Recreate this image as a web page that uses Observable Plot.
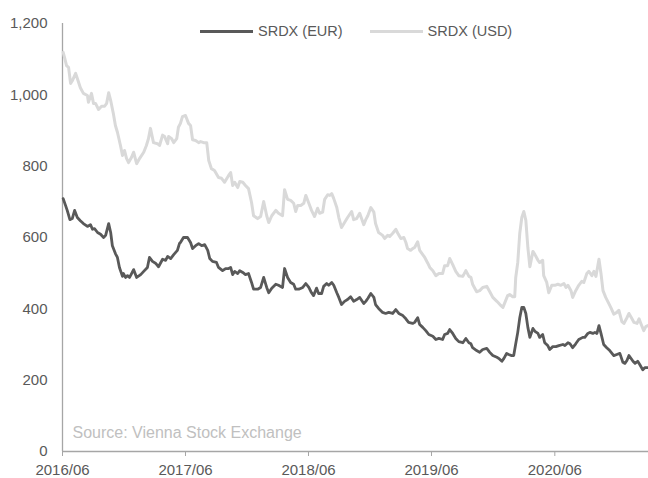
<!DOCTYPE html>
<html><head><meta charset="utf-8">
<script src="https://cdn.jsdelivr.net/npm/d3@7"></script>
<script src="https://cdn.jsdelivr.net/npm/@observablehq/plot@0.6"></script>
<style>
body{margin:0;background:#fff;font-family:"Liberation Sans",Arial,sans-serif;}
#wrap{position:relative;width:648px;height:478px;}
#legend{position:absolute;left:200px;top:22px;height:18px;display:flex;align-items:center;font-size:14.5px;color:#595959;white-space:nowrap;}
.item{display:flex;align-items:center;margin-right:27px;}
.sw{display:inline-block;width:53px;height:3px;margin-right:5px;}
svg [aria-label="x-axis tick"]{stroke:#a6a6a6;}
</style></head><body>
<div id="wrap"><div id="legend"></div></div>
<script>
const seriesNames = ["SRDX (EUR)", "SRDX (USD)"];
const seriesColors = ["#595959", "#d9d9d9"];
const yTicks = [0, 200, 400, 600, 800, 1000, 1200];
const xTickLabels = ["2016/06", "2017/06", "2018/06", "2019/06", "2020/06"];
const xDomain = ["2016-06-01", "2021-03-06"];
const sourceText = "Source: Vienna Stock Exchange";

const eurDates = ["2016-06-03","2016-06-10","2016-06-15","2016-06-23","2016-06-30","2016-07-07","2016-07-15","2016-07-24","2016-08-02","2016-08-14","2016-08-23","2016-08-29","2016-09-04","2016-09-13","2016-09-22","2016-10-01","2016-10-07","2016-10-16","2016-10-22","2016-10-27","2016-11-05","2016-11-11","2016-11-17","2016-11-26","2016-11-29","2016-12-05","2016-12-11","2016-12-17","2016-12-23","2016-12-29","2017-01-07","2017-01-19","2017-01-28","2017-02-08","2017-02-14","2017-02-23","2017-03-04","2017-03-13","2017-03-25","2017-04-03","2017-04-09","2017-04-18","2017-04-27","2017-05-08","2017-05-14","2017-05-17","2017-05-26","2017-06-07","2017-06-16","2017-06-22","2017-07-01","2017-07-10","2017-07-19","2017-07-28","2017-08-06","2017-08-12","2017-08-20","2017-09-01","2017-09-07","2017-09-19","2017-09-28","2017-10-07","2017-10-13","2017-10-19","2017-10-25","2017-11-03","2017-11-09","2017-11-18","2017-11-26","2017-12-05","2017-12-14","2017-12-20","2018-01-01","2018-01-10","2018-01-19","2018-01-28","2018-02-03","2018-02-12","2018-02-24","2018-03-04","2018-03-16","2018-03-22","2018-03-31","2018-04-09","2018-04-18","2018-04-24","2018-05-03","2018-05-15","2018-05-24","2018-06-02","2018-06-10","2018-06-16","2018-06-25","2018-07-01","2018-07-10","2018-07-16","2018-07-25","2018-07-31","2018-08-09","2018-08-15","2018-08-24","2018-08-30","2018-09-07","2018-09-16","2018-09-25","2018-10-04","2018-10-13","2018-10-22","2018-10-31","2018-11-12","2018-11-18","2018-11-24","2018-12-03","2018-12-12","2018-12-17","2018-12-26","2019-01-07","2019-01-16","2019-01-25","2019-02-06","2019-02-15","2019-02-24","2019-03-08","2019-03-17","2019-03-25","2019-04-06","2019-04-12","2019-04-21","2019-04-27","2019-05-06","2019-05-15","2019-05-24","2019-06-05","2019-06-14","2019-06-23","2019-07-04","2019-07-10","2019-07-19","2019-07-25","2019-08-03","2019-08-12","2019-08-21","2019-09-02","2019-09-11","2019-09-20","2019-09-26","2019-10-01","2019-10-13","2019-10-22","2019-10-31","2019-11-12","2019-11-21","2019-11-30","2019-12-12","2019-12-18","2019-12-27","2020-01-02","2020-01-10","2020-01-16","2020-01-25","2020-01-31","2020-02-06","2020-02-12","2020-02-18","2020-02-24","2020-03-01","2020-03-07","2020-03-13","2020-03-19","2020-03-28","2020-04-03","2020-04-12","2020-04-17","2020-04-26","2020-05-02","2020-05-11","2020-05-17","2020-05-26","2020-06-04","2020-06-13","2020-06-25","2020-07-01","2020-07-10","2020-07-16","2020-07-24","2020-08-02","2020-08-11","2020-08-23","2020-08-29","2020-09-07","2020-09-13","2020-09-22","2020-09-28","2020-10-04","2020-10-10","2020-10-16","2020-10-24","2020-11-02","2020-11-11","2020-11-23","2020-12-02","2020-12-11","2020-12-20","2020-12-26","2021-01-01","2021-01-07","2021-01-19","2021-01-25","2021-02-02","2021-02-08","2021-02-17","2021-02-23","2021-03-04"];
const eurValues = [709,690,676,650,653,676,656,647,639,631,636,623,625,614,609,600,606,639,614,577,555,544,516,491,499,488,493,488,499,510,488,496,505,516,544,533,528,518,539,536,547,541,552,564,583,586,600,600,586,569,577,583,577,580,564,541,533,530,516,507,513,513,516,496,505,499,507,502,496,499,474,455,455,460,488,460,445,458,469,466,460,513,488,474,469,455,455,460,471,460,445,437,458,443,443,463,471,466,474,466,445,432,412,421,426,434,421,426,432,415,421,429,443,432,412,401,390,387,390,387,398,387,381,372,362,359,362,375,356,348,339,328,323,314,317,314,328,331,342,331,317,308,305,317,305,302,291,283,278,286,289,278,269,264,261,253,261,275,272,269,269,302,334,375,404,404,387,348,320,345,337,331,320,328,305,297,286,294,294,297,300,297,305,302,291,302,314,320,320,331,334,331,334,331,353,331,300,291,283,269,272,275,250,247,255,269,253,247,253,244,229,235,235];

const usdDates = ["2016-06-03","2016-06-07","2016-06-13","2016-06-19","2016-06-25","2016-07-01","2016-07-10","2016-07-16","2016-07-24","2016-08-02","2016-08-14","2016-08-17","2016-08-26","2016-09-01","2016-09-07","2016-09-16","2016-09-25","2016-10-04","2016-10-10","2016-10-16","2016-10-22","2016-10-30","2016-11-05","2016-11-11","2016-11-20","2016-11-26","2016-12-02","2016-12-08","2016-12-14","2016-12-23","2016-12-29","2017-01-07","2017-01-16","2017-01-28","2017-02-05","2017-02-11","2017-02-17","2017-02-26","2017-03-10","2017-03-16","2017-03-25","2017-03-31","2017-04-09","2017-04-12","2017-04-21","2017-04-27","2017-05-06","2017-05-11","2017-05-17","2017-05-23","2017-06-01","2017-06-10","2017-06-16","2017-06-22","2017-07-01","2017-07-10","2017-07-16","2017-07-25","2017-08-03","2017-08-09","2017-08-17","2017-08-26","2017-09-07","2017-09-16","2017-09-25","2017-10-07","2017-10-13","2017-10-19","2017-10-25","2017-11-03","2017-11-09","2017-11-18","2017-11-26","2017-12-05","2017-12-14","2017-12-20","2018-01-01","2018-01-10","2018-01-19","2018-01-28","2018-02-03","2018-02-12","2018-02-24","2018-03-04","2018-03-16","2018-03-22","2018-03-31","2018-04-09","2018-04-18","2018-04-24","2018-04-30","2018-05-09","2018-05-18","2018-05-24","2018-06-02","2018-06-10","2018-06-19","2018-06-28","2018-07-04","2018-07-13","2018-07-19","2018-07-28","2018-08-03","2018-08-09","2018-08-15","2018-08-24","2018-08-30","2018-09-07","2018-09-16","2018-09-25","2018-10-07","2018-10-13","2018-10-22","2018-10-31","2018-11-12","2018-11-18","2018-11-24","2018-12-03","2018-12-12","2018-12-17","2018-12-26","2019-01-07","2019-01-13","2019-01-22","2019-01-28","2019-02-06","2019-02-15","2019-02-21","2019-03-02","2019-03-11","2019-03-17","2019-03-22","2019-03-31","2019-04-06","2019-04-12","2019-04-21","2019-04-27","2019-05-06","2019-05-12","2019-05-21","2019-05-27","2019-06-05","2019-06-14","2019-06-23","2019-07-04","2019-07-10","2019-07-19","2019-07-25","2019-08-03","2019-08-12","2019-08-21","2019-09-02","2019-09-11","2019-09-20","2019-09-26","2019-10-01","2019-10-13","2019-10-22","2019-10-31","2019-11-12","2019-11-21","2019-11-30","2019-12-12","2019-12-21","2019-12-30","2020-01-05","2020-01-13","2020-01-19","2020-01-28","2020-02-03","2020-02-06","2020-02-12","2020-02-18","2020-02-24","2020-03-01","2020-03-07","2020-03-13","2020-03-19","2020-03-28","2020-04-03","2020-04-12","2020-04-17","2020-04-26","2020-04-29","2020-05-08","2020-05-14","2020-05-23","2020-06-01","2020-06-10","2020-06-19","2020-06-28","2020-07-04","2020-07-10","2020-07-19","2020-07-24","2020-08-02","2020-08-11","2020-08-20","2020-08-26","2020-09-04","2020-09-10","2020-09-19","2020-09-25","2020-10-01","2020-10-04","2020-10-10","2020-10-16","2020-10-22","2020-10-30","2020-11-05","2020-11-14","2020-11-23","2020-12-02","2020-12-08","2020-12-17","2020-12-23","2021-01-01","2021-01-07","2021-01-16","2021-01-22","2021-01-31","2021-02-06","2021-02-15","2021-02-20","2021-02-26","2021-03-04"];
const usdValues = [1119,1105,1082,1077,1032,1041,1060,1043,1020,1004,998,979,1004,976,976,959,968,968,976,1006,984,947,914,895,858,830,844,822,810,825,839,807,822,839,858,877,906,866,863,858,887,883,863,883,877,866,877,909,920,939,942,920,914,874,872,866,869,866,866,816,793,788,768,766,755,774,782,746,755,740,757,755,746,737,698,661,653,659,701,661,642,661,676,668,661,734,707,704,696,673,690,690,696,718,696,676,659,682,668,671,707,720,718,723,709,684,656,628,642,656,673,650,653,668,636,650,661,684,671,639,614,606,597,606,603,612,623,612,597,600,586,569,564,569,572,588,564,552,544,528,516,507,493,499,499,521,521,541,524,505,493,491,507,491,488,469,448,451,460,463,448,432,421,412,404,418,437,440,434,434,488,530,612,656,673,648,572,518,561,552,536,530,536,493,474,445,466,466,469,466,471,460,466,451,432,451,466,477,474,499,505,493,505,491,507,539,499,451,432,421,404,385,390,396,364,359,375,387,372,362,359,372,350,339,350,353];

const parse = d3.utcParse("%Y-%m-%d");
const eurData = eurDates.map((d, i) => ({series: seriesNames[0], date: parse(d), value: eurValues[i]}));
const usdData = usdDates.map((d, i) => ({series: seriesNames[1], date: parse(d), value: usdValues[i]}));
const xTicks = xTickLabels.map(s => d3.utcParse("%Y/%m")(s));
const xStart = parse(xDomain[0]);

const chart = Plot.plot({
  width: 648,
  height: 478,
  marginLeft: 62,
  marginRight: 0,
  marginTop: 23,
  marginBottom: 27,
  style: {fontFamily: "'Liberation Sans', Arial, sans-serif", fontSize: "15px", color: "#595959", background: "#fff", overflow: "visible"},
  x: {type: "utc", domain: xDomain.map(parse), ticks: xTicks, tickFormat: d3.utcFormat("%Y/%m"), tickSize: 5, tickPadding: 8, label: null},
  y: {domain: [0, 1200], ticks: yTicks, tickFormat: d3.format(","), tickSize: 0, tickPadding: 15, label: null},
  marks: [
    Plot.ruleX([xStart], {stroke: "#a6a6a6", strokeWidth: 1.3}),
    Plot.ruleY([0], {stroke: "#a6a6a6", strokeWidth: 1.3}),
    Plot.text([sourceText], {frameAnchor: "bottom-left", dx: 10, dy: -14, lineAnchor: "bottom", textAnchor: "start", fill: "#c0c0c0", fontSize: 16}),
    Plot.line(usdData, {x: "date", y: "value", stroke: seriesColors[1], strokeWidth: 3, strokeLinejoin: "round"}),
    Plot.line(eurData, {x: "date", y: "value", stroke: seriesColors[0], strokeWidth: 2.8, strokeLinejoin: "round"})
  ]
});
const wrap = document.getElementById("wrap");
wrap.insertBefore(chart, wrap.firstChild);

const legend = document.getElementById("legend");
seriesNames.forEach((name, i) => {
  const item = document.createElement("span");
  item.className = "item";
  const sw = document.createElement("span");
  sw.className = "sw";
  sw.style.background = seriesColors[i];
  item.appendChild(sw);
  item.appendChild(document.createTextNode(name));
  legend.appendChild(item);
});
</script>
</body></html>
